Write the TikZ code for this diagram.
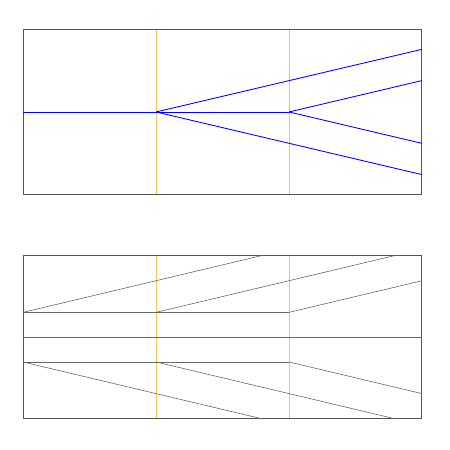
\documentclass[tikz,border=0pt]{standalone}
\definecolor{slicecol}{RGB}{244,196,96}
\tikzset{
  frame/.style={draw=black!67, line width=0.7pt},
  slice/.style={slicecol, line width=0.55pt},
  ray/.style={blue, line width=0.65pt},
  wall/.style={black!60, line width=0.45pt}
}
\begin{document}
\begin{tikzpicture}[scale=3.5]
		\useasboundingbox (-0.173,0.842) rectangle (3.211,-2.541);

		% upper panel: branching rays
		\draw[slice] (1,0.617) -- (1,-0.617);
		\draw[slice] (2,0.617) -- (2,-0.617);
		\draw[frame] (0,0.617) rectangle (3,-0.617);

		\coordinate (a) at (0,0);
		\coordinate (b) at (1,0);
		\coordinate (c) at (2,0);
		\draw[ray] (a) -- (b) -- (c);
		\draw[ray] (b) -- (3,0.471);
		\draw[ray] (b) -- (3,-0.471);
		\draw[ray] (c) -- (3,0.236);
		\draw[ray] (c) -- (3,-0.236);

		% lower panel
		\draw[slice] (1,-1.077) -- (1,-2.308);
		\draw[slice] (2,-1.077) -- (2,-2.308);
		\draw[frame] (0,-1.077) rectangle (3,-2.308);

		\draw[wall] (0,-1.694) -- (3,-1.694);
		\draw[wall] (0,-1.507) -- (2,-1.507);
		\draw[wall] (0,-1.880) -- (2,-1.880);
		\draw[wall] (0,-1.507) -- (1.807,-1.077);
		\draw[wall] (1,-1.507) -- (2.807,-1.077);
		\draw[wall] (2,-1.507) -- (3,-1.269);
		\draw[wall] (0,-1.880) -- (1.800,-2.308);
		\draw[wall] (1,-1.880) -- (2.800,-2.308);
		\draw[wall] (2,-1.880) -- (3,-2.118);
	\end{tikzpicture}
\end{document}
